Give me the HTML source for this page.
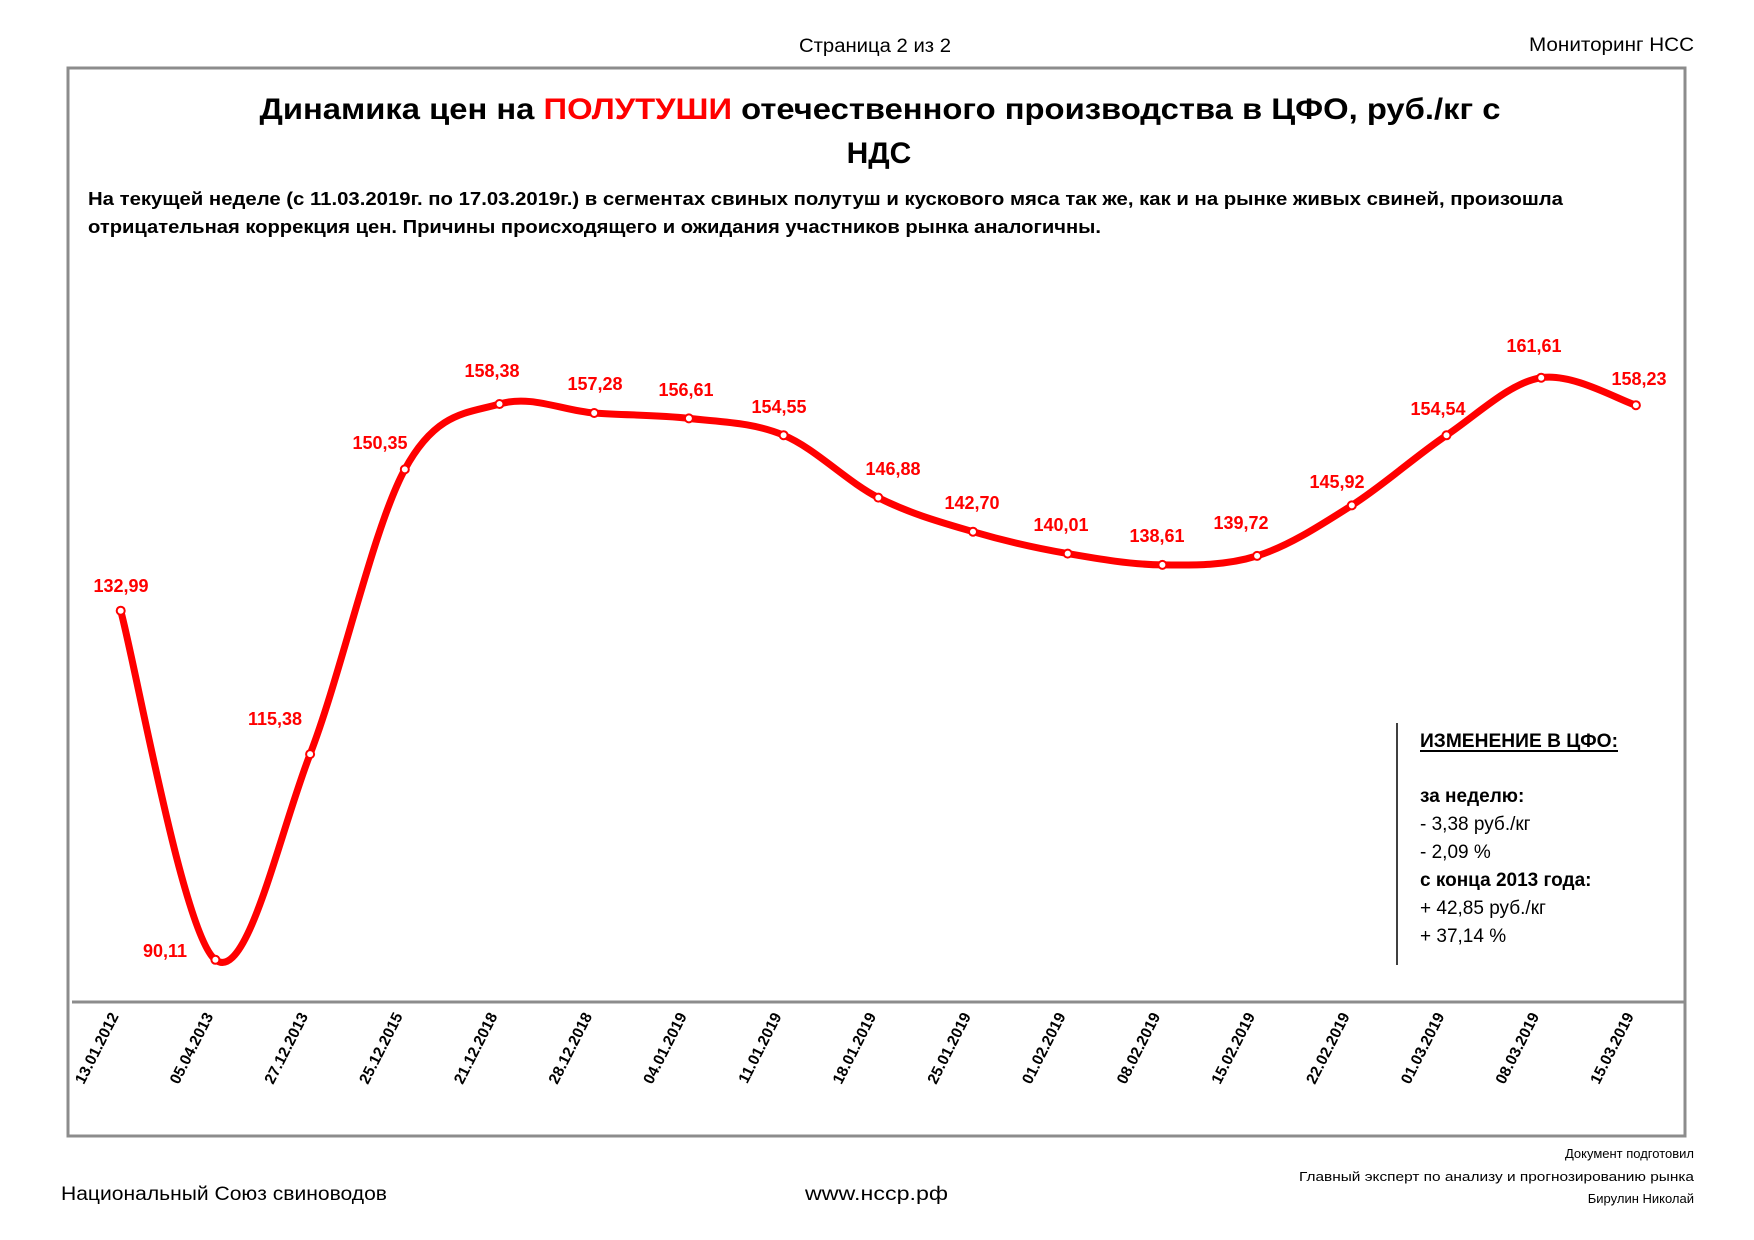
<!DOCTYPE html>
<html><head><meta charset="utf-8"><style>
html,body{margin:0;padding:0;background:#fff;}
svg{display:block;font-family:"Liberation Sans","DejaVu Sans",sans-serif;}
</style></head><body>
<svg width="1754" height="1240" viewBox="0 0 1754 1240" xmlns="http://www.w3.org/2000/svg">
<rect width="1754" height="1240" fill="#fff"/>
<text x="875" y="52" font-size="19" text-anchor="middle" textLength="152" lengthAdjust="spacingAndGlyphs" fill="#000">Страница 2 из 2</text>
<text x="1694" y="51" font-size="19" text-anchor="end" textLength="165" lengthAdjust="spacingAndGlyphs" fill="#000">Мониторинг НСС</text>
<rect x="68" y="68" width="1617" height="1068" fill="none" stroke="#8c8c8c" stroke-width="3"/>
<text x="880" y="119" font-size="30" font-weight="bold" text-anchor="middle" textLength="1241" lengthAdjust="spacingAndGlyphs" fill="#000">Динамика цен на <tspan fill="#ff0000">ПОЛУТУШИ</tspan> отечественного производства в ЦФО, руб./кг с</text>
<text x="879" y="163" font-size="30" font-weight="bold" text-anchor="middle" fill="#000">НДС</text>
<text x="88" y="205" font-size="18" font-weight="bold" textLength="1475" lengthAdjust="spacingAndGlyphs" fill="#000">На текущей неделе (с 11.03.2019г. по 17.03.2019г.)  в сегментах свиных полутуш и кускового мяса так же, как и на рынке живых свиней, произошла</text>
<text x="88" y="233" font-size="18" font-weight="bold" textLength="1013" lengthAdjust="spacingAndGlyphs" fill="#000">отрицательная коррекция цен. Причины происходящего и ожидания участников рынка аналогичны.</text>
<line x1="72" y1="1002" x2="1685" y2="1002" stroke="#8c8c8c" stroke-width="3"/>
<path d="M120.7,610.7 C136.5,668.9 183.8,935.9 215.4,959.8 C247.0,983.7 278.5,835.8 310.1,754.1 C341.7,672.4 373.2,527.75 404.8,469.4 C436.4,411.05 467.9,413.4 499.5,404.0 C531.1,394.6 562.6,410.6 594.2,413.0 C625.8,415.4 657.3,414.7 688.9,418.4 C720.5,422.1 752.0,422.0 783.6,435.2 C815.2,448.4 846.7,481.5 878.3,497.6 C909.9,513.7 941.4,522.4 973.0,531.7 C1004.6,541.0 1036.1,548.1 1067.7,553.6 C1099.3,559.1 1130.8,564.5 1162.4,564.9 C1194.0,565.3 1225.5,565.8 1257.1,555.9 C1288.7,546.0 1320.2,525.5 1351.8,505.4 C1383.4,485.3 1414.9,456.6 1446.5,435.3 C1478.1,414.0 1509.6,382.7 1541.2,377.7 C1572.8,372.7 1620.1,400.6 1635.9,405.2" fill="none" stroke="#ff0000" stroke-width="7" stroke-linecap="round" stroke-linejoin="round"/>
<g fill="#fff" stroke="#ff0000" stroke-width="2">
<circle cx="120.7" cy="610.7" r="4"/><circle cx="215.4" cy="959.8" r="4"/><circle cx="310.1" cy="754.1" r="4"/><circle cx="404.8" cy="469.4" r="4"/><circle cx="499.5" cy="404.0" r="4"/><circle cx="594.2" cy="413.0" r="4"/><circle cx="688.9" cy="418.4" r="4"/><circle cx="783.6" cy="435.2" r="4"/><circle cx="878.3" cy="497.6" r="4"/><circle cx="973.0" cy="531.7" r="4"/><circle cx="1067.7" cy="553.6" r="4"/><circle cx="1162.4" cy="564.9" r="4"/><circle cx="1257.1" cy="555.9" r="4"/><circle cx="1351.8" cy="505.4" r="4"/><circle cx="1446.5" cy="435.3" r="4"/><circle cx="1541.2" cy="377.7" r="4"/><circle cx="1635.9" cy="405.2" r="4"/>
</g>
<g font-size="18" font-weight="bold" fill="#ff0000" text-anchor="middle">
<text x="121" y="592">132,99</text>
<text x="165" y="957">90,11</text>
<text x="275" y="725">115,38</text>
<text x="380" y="449">150,35</text>
<text x="492" y="377">158,38</text>
<text x="595" y="390">157,28</text>
<text x="686" y="396">156,61</text>
<text x="779" y="413">154,55</text>
<text x="893" y="475">146,88</text>
<text x="972" y="509">142,70</text>
<text x="1061" y="531">140,01</text>
<text x="1157" y="542">138,61</text>
<text x="1241" y="529">139,72</text>
<text x="1337" y="488">145,92</text>
<text x="1438" y="415">154,54</text>
<text x="1534" y="352">161,61</text>
<text x="1639" y="385">158,23</text>
</g>
<g font-size="15.5" font-weight="bold" fill="#000" text-anchor="end">
<text transform="translate(119,1016) rotate(-63)">13.01.2012</text>
<text transform="translate(213.7,1016) rotate(-63)">05.04.2013</text>
<text transform="translate(308.4,1016) rotate(-63)">27.12.2013</text>
<text transform="translate(403.1,1016) rotate(-63)">25.12.2015</text>
<text transform="translate(497.8,1016) rotate(-63)">21.12.2018</text>
<text transform="translate(592.5,1016) rotate(-63)">28.12.2018</text>
<text transform="translate(687.2,1016) rotate(-63)">04.01.2019</text>
<text transform="translate(781.9,1016) rotate(-63)">11.01.2019</text>
<text transform="translate(876.6,1016) rotate(-63)">18.01.2019</text>
<text transform="translate(971.3,1016) rotate(-63)">25.01.2019</text>
<text transform="translate(1066,1016) rotate(-63)">01.02.2019</text>
<text transform="translate(1160.7,1016) rotate(-63)">08.02.2019</text>
<text transform="translate(1255.4,1016) rotate(-63)">15.02.2019</text>
<text transform="translate(1350.1,1016) rotate(-63)">22.02.2019</text>
<text transform="translate(1444.8,1016) rotate(-63)">01.03.2019</text>
<text transform="translate(1539.5,1016) rotate(-63)">08.03.2019</text>
<text transform="translate(1634.2,1016) rotate(-63)">15.03.2019</text>
</g>
<line x1="1397" y1="723" x2="1397" y2="965" stroke="#000" stroke-width="1.5"/>
<g font-size="19" fill="#000">
<text x="1420" y="747" font-weight="bold" textLength="198" lengthAdjust="spacingAndGlyphs">ИЗМЕНЕНИЕ В ЦФО:</text>
<line x1="1420" y1="751" x2="1618" y2="751" stroke="#000" stroke-width="2"/>
<text x="1420" y="802" font-weight="bold">за неделю:</text>
<text x="1420" y="830">- 3,38  руб./кг</text>
<text x="1420" y="858">- 2,09 %</text>
<text x="1420" y="886" font-weight="bold">с конца 2013 года:</text>
<text x="1420" y="914">+ 42,85 руб./кг</text>
<text x="1420" y="942">+ 37,14 %</text>
</g>
<text x="61" y="1200" font-size="19" textLength="326" lengthAdjust="spacingAndGlyphs" fill="#000">Национальный Союз свиноводов</text>
<text x="805" y="1200" font-size="19" textLength="143" lengthAdjust="spacingAndGlyphs" fill="#000">www.нсср.рф</text>
<g font-size="13" fill="#000" text-anchor="end">
<text x="1694" y="1158">Документ подготовил</text>
<text x="1694" y="1181" textLength="395" lengthAdjust="spacingAndGlyphs">Главный эксперт по анализу и прогнозированию рынка</text>
<text x="1694" y="1203">Бирулин Николай</text>
</g>
</svg>
</body></html>
